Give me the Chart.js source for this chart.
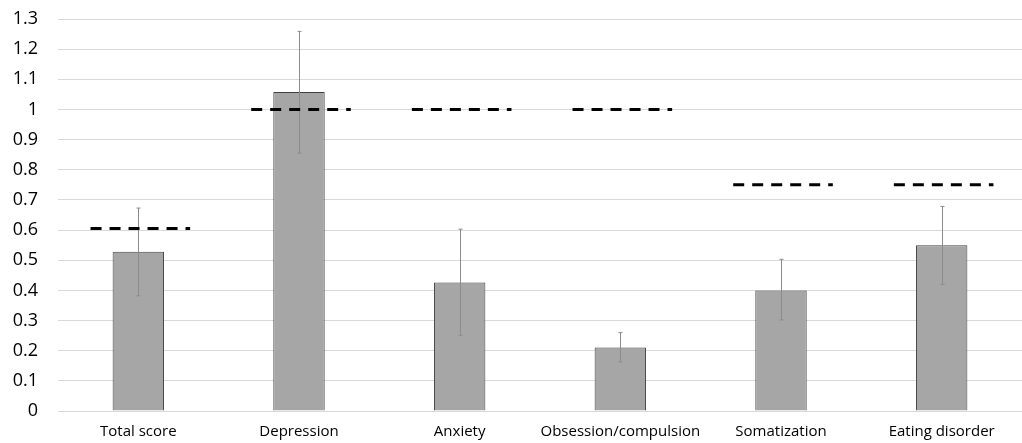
<!DOCTYPE html>
<html>
<head>
<meta charset="utf-8">
<script src="https://cdn.jsdelivr.net/npm/chart.js@4/dist/chart.umd.min.js"></script>
<style>
  html, body { margin: 0; padding: 0; background: #fff; }
  #wrap { width: 1022px; height: 443px; }
</style>
</head>
<body>
<div id="wrap"><canvas id="chart"></canvas></div>
<script>
// categories and values
const categories = ["Total score", "Depression", "Anxiety", "Obsession/compulsion", "Somatization", "Eating disorder"];
const meanValues = [0.528, 1.058, 0.426, 0.211, 0.400, 0.550];
const errorLow = [0.382, 0.855, 0.251, 0.163, 0.302, 0.420];
const errorHigh = [0.673, 1.259, 0.603, 0.260, 0.503, 0.678];
const cutoffValues = [0.605, 1, 1, 1, 0.75, 0.75];

// error bars and dashed cut-off lines, drawn through the chart scales
const overlayPlugin = {
  id: "overlay",
  afterDatasetsDraw(chart) {
    const { ctx, scales } = chart;
    const x = scales.x;
    const y = scales.y;
    const catWidth = (x.right - x.left) / categories.length;

    ctx.save();
    // error bars
    ctx.strokeStyle = "#8c8c8c";
    ctx.lineWidth = 1;
    categories.forEach((c, i) => {
      const cx = Math.round(x.getPixelForValue(i)) + 0.5;
      const yLo = y.getPixelForValue(errorLow[i]);
      const yHi = y.getPixelForValue(errorHigh[i]);
      ctx.beginPath();
      ctx.moveTo(cx, yHi);
      ctx.lineTo(cx, yLo);
      ctx.moveTo(cx - 2, yHi);
      ctx.lineTo(cx + 2, yHi);
      ctx.moveTo(cx - 2, yLo);
      ctx.lineTo(cx + 2, yLo);
      ctx.stroke();
    });

    // cut-off lines
    ctx.strokeStyle = "#000";
    ctx.lineWidth = 3;
    ctx.setLineDash([11, 8]);
    categories.forEach((c, i) => {
      const cx = x.getPixelForValue(i) + 2;
      const half = catWidth * 0.31;
      const yy = y.getPixelForValue(cutoffValues[i]);
      ctx.beginPath();
      ctx.moveTo(cx - half, yy);
      ctx.lineTo(cx + half, yy);
      ctx.stroke();
    });
    ctx.restore();
  },
};

new Chart(document.getElementById("chart"), {
  type: "bar",
  data: {
    labels: categories,
    datasets: [
      {
        data: meanValues,
        backgroundColor: "#a6a6a6",
        borderColor: "#404040",
        borderWidth: 1,
        borderSkipped: "bottom",
        categoryPercentage: 1,
        barPercentage: 0.32,
      },
    ],
  },
  options: {
    responsive: true,
    maintainAspectRatio: false,
    animation: false,
    layout: { padding: { top: 19, right: 0, left: 0, bottom: 0 } },
    scales: {
      x: {
        grid: { display: false, drawTicks: false },
        border: { display: false },
        ticks: {
          color: "#000",
          padding: 12,
          maxRotation: 0,
          autoSkip: false,
          font: { family: "'Open Sans', sans-serif", size: 15 },
        },
        afterFit: (s) => { s.height = 32; },
      },
      y: {
        min: 0,
        max: 1.3,
        grid: { color: "#d9d9d9", lineWidth: 1, drawTicks: false },
        border: { display: false },
        ticks: {
          stepSize: 0.1,
          color: "#000",
          padding: 20,
          font: { family: "'Open Sans', sans-serif", size: 18 },
          callback: (v) => Math.round(v * 10) / 10,
        },
        afterFit: (s) => {
          s.width = 58;
          s.paddingTop = 0;
          s.paddingBottom = 0;
        },
      },
    },
    plugins: {
      legend: { display: false },
      tooltip: { enabled: false },
    },
  },
  plugins: [overlayPlugin],
});
</script>
</body>
</html>
